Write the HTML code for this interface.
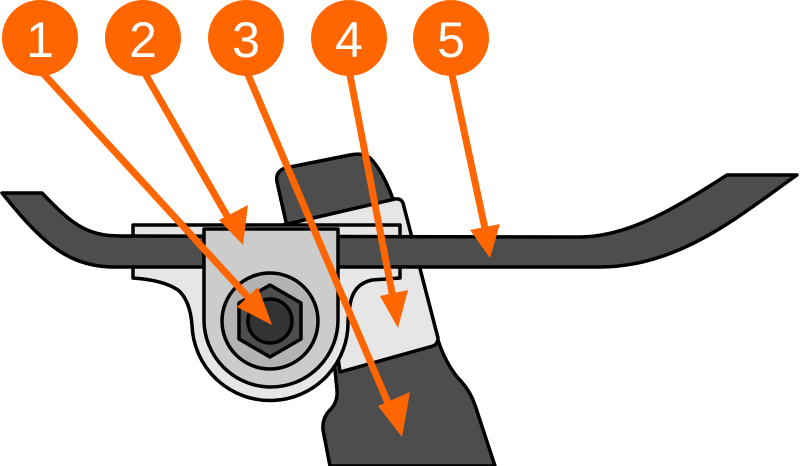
<!DOCTYPE html>
<html><head><meta charset="utf-8"><style>html,body{margin:0;padding:0;background:#fff;width:800px;height:466px;overflow:hidden}</style></head>
<body>
<svg width="800" height="466" viewBox="0 0 800 466" xmlns="http://www.w3.org/2000/svg">
<g stroke="#000" stroke-width="3.5" stroke-linejoin="round">
<!-- lever -->
<path d="M277,182 Q275,172 285,168 L350,155 Q365,152 372,160 Q385,175 395,205 L438,340 Q445,362 458,378 Q470,390 475,405 L495,466 L330,466 L323,430 Q322,418 330,410 Q338,402 337,390 L335,370 L290,240 Z" fill="#4d4d4d"/>
<!-- collar -->
<path d="M283,225 L395,199 Q401,198 403,203 L438,338 Q438,344 433,346 L340,372 L330,300 Z" fill="#e6e6e6"/>
<!-- bracket -->
<path d="M133,225 L400,225 L400,278 L372,280 Q353,284 350,305 L348,320 A78,78 0 0 1 192,325 Q190,300 178,290 Q163,280 133,278 Z" fill="#e6e6e6"/>
<!-- bar -->
<path d="M2,193 L42,193 C70,222 85,236 120,236 L580,237 C630,237 680,205 727,175 L797,175 C740,215 680,267 600,267 L110,267 C65,265 40,240 2,193 Z" fill="#4d4d4d"/>
<!-- plate -->
<path d="M204,229 L338,229 L338,320 A67,67 0 0 1 204,320 Z" fill="#cccccc"/>
<circle cx="270" cy="321" r="48" fill="#b3b3b3"/>
<polygon points="270,285 301,303 301,339 270,357 239,339 239,303" fill="#4d4d4d"/>
<circle cx="270" cy="321" r="22" fill="#333"/>
</g>
<!-- arrows -->
<g stroke="#ff6600" stroke-width="7" fill="#ff6600">
<line x1="40" y1="70" x2="258" y2="308"/>
<line x1="143" y1="70" x2="234" y2="228"/>
<line x1="246" y1="70" x2="394" y2="417"/>
<line x1="349" y1="70" x2="395" y2="308"/>
<line x1="451" y1="70" x2="487" y2="238"/>
</g>
<g fill="#ff6600">
<polygon points="272,325 237,307 258,287"/>
<polygon points="243,245 219,220 248,205"/>
<polygon points="402,437 378,406 410,392"/>
<polygon points="398,328 380,296 408,290"/>
<polygon points="490,258 470,230 500,224"/>
<circle cx="40" cy="38" r="38"/>
<circle cx="143" cy="38" r="38"/>
<circle cx="246" cy="38" r="38"/>
<circle cx="349" cy="38" r="38"/>
<circle cx="451" cy="38" r="38"/>
</g>
<g fill="#fff" font-family="Liberation Sans, sans-serif" font-size="50" text-anchor="middle">
<text x="40" y="57">1</text>
<text x="143" y="57">2</text>
<text x="246" y="57">3</text>
<text x="349" y="57">4</text>
<text x="451" y="57">5</text>
</g>
</svg>
</body></html>
